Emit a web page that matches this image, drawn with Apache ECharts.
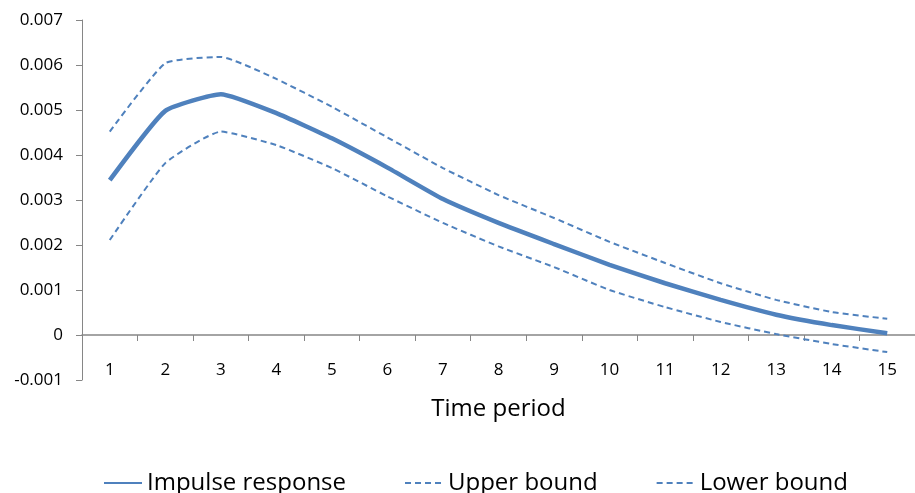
<!DOCTYPE html>
<html>
<head>
<meta charset="utf-8">
<script src="https://cdn.jsdelivr.net/npm/echarts@6/dist/echarts.min.js"></script>
<style>
  html, body { margin: 0; padding: 0; background: #fff; }
  #chart { width: 915px; height: 493px; }
</style>
</head>
<body>
<div id="chart"></div>
<script>
// 数据
const periods = ['1', '2', '3', '4', '5', '6', '7', '8', '9', '10', '11', '12', '13', '14', '15'];
const impulse = [0.00344, 0.00498, 0.00535, 0.00493, 0.00437, 0.00372, 0.00302, 0.00249, 0.00202, 0.00156, 0.00115, 0.00078, 0.00045, 0.00022, 0.00004];
const upper = [0.00452, 0.00604, 0.00618, 0.00569, 0.00507, 0.00439, 0.00371, 0.00311, 0.0026, 0.00207, 0.0016, 0.00115, 0.00078, 0.00051, 0.00036];
const lower = [0.00211, 0.00382, 0.00452, 0.00422, 0.00371, 0.00308, 0.00249, 0.00197, 0.00151, 0.001, 0.00062, 0.00029, 0.00002, -0.0002, -0.00038];
const yTicks = [-0.001, 0, 0.001, 0.002, 0.003, 0.004, 0.005, 0.006, 0.007];

const blue = '#4F81BD';
const axisGray = '#868686';
const font = '"Open Sans", "Noto Sans", sans-serif';

const myChart = echarts.init(document.getElementById('chart'));
myChart.setOption({
    animation: false,
    textStyle: { fontFamily: font },
    grid: { left: 82, top: 20, width: 840, height: 360, containLabel: false },
    legend: {
        left: 98,
        top: 466,
        itemWidth: 38,
        itemHeight: 14,
        itemGap: 58,
        itemStyle: { opacity: 0 },
        textStyle: { fontSize: 24, color: '#000', fontFamily: font },
        data: ['Impulse response', 'Upper bound', 'Lower bound']
    },
    xAxis: {
        type: 'category',
        data: periods,
        boundaryGap: true,
        position: 'bottom',
        offset: -45, // 横轴画在 0 的位置
        name: 'Time period',
        nameLocation: 'middle',
        nameGap: 62,
        nameTextStyle: { fontSize: 24, color: '#000' },
        axisLine: { show: true, onZero: false, lineStyle: { color: axisGray, width: 1.5 } },
        axisTick: { show: true, length: 6, lineStyle: { color: axisGray } },
        axisLabel: { margin: 27, fontSize: 17, color: '#000' },
        splitLine: { show: false }
    },
    yAxis: {
        type: 'value',
        min: yTicks[0],
        max: yTicks[yTicks.length - 1],
        interval: 0.001,
        axisLine: { show: true, lineStyle: { color: axisGray, width: 1 } },
        axisTick: { show: true, length: 6, lineStyle: { color: axisGray } },
        axisLabel: {
            margin: 19,
            fontSize: 17,
            color: '#000',
            formatter: v => {
                const t = yTicks.find(x => Math.abs(x - v) < 1e-9);
                return t === 0 ? '0' : (t !== undefined ? t.toFixed(3) : '');
            }
        },
        splitLine: { show: false }
    },
    series: [
        {
            name: 'Impulse response',
            type: 'line',
            data: impulse,
            symbol: 'none',
            smooth: 0.15,
            lineStyle: { color: blue, width: 4.5 },
            itemStyle: { color: blue },
            z: 3
        },
        {
            name: 'Upper bound',
            type: 'line',
            data: upper,
            symbol: 'none',
            smooth: 0.15,
            lineStyle: { color: blue, width: 2, type: [6, 4] },
            itemStyle: { color: blue }
        },
        {
            name: 'Lower bound',
            type: 'line',
            data: lower,
            symbol: 'none',
            smooth: 0.15,
            lineStyle: { color: blue, width: 2, type: [6, 4] },
            itemStyle: { color: blue }
        }
    ]
});
</script>
</body>
</html>
